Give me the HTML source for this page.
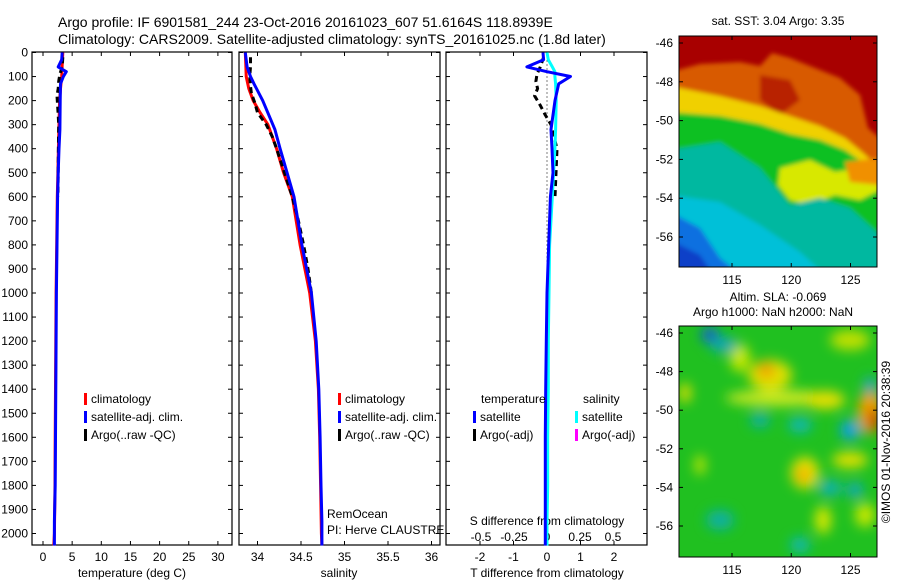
<!DOCTYPE html>
<html><head><meta charset="utf-8"><style>
html,body{margin:0;padding:0;background:#fff}
svg{display:block;font-family:"Liberation Sans",sans-serif}
</style></head><body>
<svg id="fig" width="900" height="580" viewBox="0 0 900 580">
<defs>
<filter id="bl1" x="-5%" y="-5%" width="110%" height="110%"><feGaussianBlur stdDeviation="2"/></filter>
<filter id="bl2" x="-20%" y="-20%" width="140%" height="140%"><feGaussianBlur stdDeviation="6"/></filter>
<clipPath id="c1"><rect x="679" y="36" width="198" height="231"/></clipPath>
<clipPath id="c2"><rect x="679" y="326" width="198" height="231"/></clipPath>
</defs>
<text x="58" y="27" font-size="14">Argo profile: IF 6901581_244 23-Oct-2016 20161023_607 51.6164S 118.8939E</text>
<text x="58" y="44" font-size="14">Climatology: CARS2009. Satellite-adjusted climatology: synTS_20161025.nc (1.8d later)</text>
<g id="plots"></g>

<!-- SST map -->
<g>
<text x="778" y="25" font-size="12" text-anchor="middle">sat. SST: 3.04  Argo: 3.35</text>
<g clip-path="url(#c1)">
<rect x="679" y="36" width="198" height="231" fill="#a80000"/>
<g filter="url(#bl1)">
<path d="M670,72 L700,64 L740,62 L760,66 L772,53 L790,58 L810,66 L840,78 L860,95 L868,128 L880,138 L880,280 L670,280Z" fill="#d85a00"/>
<path d="M760,75 L790,80 L800,100 L780,115 L760,100Z" fill="#b82000"/>
<path d="M670,86 L720,96 L760,106 L790,116 L820,126 L845,138 L862,152 L880,168 L880,280 L670,280Z" fill="#f0d000"/>
<path d="M670,112 L720,116 L760,124 L790,134 L820,140 L845,150 L862,162 L880,190 L880,280 L670,280Z" fill="#10c020"/>
<path d="M780,168 L810,160 L835,172 L860,168 L880,165 L880,190 L860,200 L835,195 L810,205 L790,200 L778,185Z" fill="#d8e800"/>
<path d="M845,162 L880,158 L880,185 L850,182Z" fill="#f09000"/>
<path d="M670,150 L720,142 L760,168 L790,205 L820,198 L850,208 L880,235 L880,280 L670,280Z" fill="#00b8a0"/>
<path d="M670,195 L720,202 L760,225 L800,252 L820,270 L670,280Z" fill="#00c0d8"/>
<path d="M670,212 L700,228 L720,258 L735,270 L670,280Z" fill="#1070e0"/>
<path d="M670,240 L700,255 L710,270 L670,280Z" fill="#1040c8"/>
</g>
</g>
<rect x="679" y="36" width="198" height="231" fill="none" stroke="#000"/>
<g id="m1ticks"></g>
</g>

<!-- SLA map -->
<g>
<text x="778" y="301" font-size="12" text-anchor="middle">Altim. SLA: -0.069</text>
<text x="773" y="316" font-size="12" text-anchor="middle">Argo h1000: NaN h2000: NaN</text>
<g clip-path="url(#c2)">
<rect x="679" y="326" width="198" height="231" fill="#20c020"/>
<g filter="url(#bl2)">
<ellipse cx="740" cy="358" rx="10" ry="14" fill="#c8e800"/>
<ellipse cx="770" cy="375" rx="22" ry="15" fill="#e0e000"/>
<ellipse cx="766" cy="370" rx="9" ry="8" fill="#f0a000"/>
<ellipse cx="780" cy="398" rx="55" ry="8" fill="#c8e820"/>
<ellipse cx="825" cy="400" rx="20" ry="9" fill="#e8e000"/>
<ellipse cx="710" cy="335" rx="9" ry="8" fill="#1060d0"/>
<ellipse cx="724" cy="345" rx="14" ry="8" fill="#10a8b0"/>
<ellipse cx="685" cy="393" rx="6" ry="10" fill="#e0e000"/>
<ellipse cx="850" cy="340" rx="20" ry="10" fill="#c0e000"/>
<ellipse cx="870" cy="412" rx="12" ry="22" fill="#f0a000"/>
<ellipse cx="874" cy="420" rx="6" ry="12" fill="#c84000"/>
<ellipse cx="850" cy="430" rx="10" ry="10" fill="#10a0e0"/>
<ellipse cx="870" cy="385" rx="6" ry="8" fill="#20a0d0"/>
<ellipse cx="805" cy="473" rx="14" ry="16" fill="#e8e000"/>
<ellipse cx="803" cy="475" rx="6" ry="7" fill="#f0a000"/>
<ellipse cx="850" cy="460" rx="18" ry="8" fill="#e0e000"/>
<ellipse cx="823" cy="520" rx="8" ry="14" fill="#d8e800"/>
<ellipse cx="700" cy="465" rx="5" ry="10" fill="#c8e800"/>
<ellipse cx="865" cy="515" rx="10" ry="12" fill="#c8e800"/>
<ellipse cx="760" cy="420" rx="10" ry="8" fill="#10b0a0"/>
<ellipse cx="800" cy="425" rx="12" ry="8" fill="#10b8b0"/>
<ellipse cx="830" cy="488" rx="12" ry="8" fill="#10b0b0"/>
<ellipse cx="800" cy="545" rx="10" ry="8" fill="#10b8b0"/>
<ellipse cx="720" cy="520" rx="14" ry="10" fill="#10b0a0"/>
<ellipse cx="855" cy="490" rx="8" ry="8" fill="#10a8c0"/>
</g>
</g>
<rect x="679" y="326" width="198" height="231" fill="none" stroke="#000"/>
<g id="m2ticks"></g>
</g>
<text transform="translate(890,442) rotate(-90)" font-size="12" text-anchor="middle">©IMOS 01-Nov-2016 20:38:39</text>
</svg>
<script>
// ---- data ----
const depthClim = [0,50,100,150,200,250,300,400,500,600,800,1000,1200,1400,1600,1800,2000,2050];
const tClim = [3.4,3.3,3.2,3.0,2.85,2.8,2.75,2.65,2.55,2.45,2.35,2.25,2.2,2.15,2.1,2.05,1.95,1.85];
const depthSat = [0,30,60,80,100,130,200,320,400,500,600,800,1000,1200,1400,1600,1800,1950,2050];
const tSat = [3.3,3.2,2.6,4.0,3.5,3.0,2.95,2.9,2.75,2.6,2.5,2.4,2.3,2.25,2.2,2.15,2.1,1.95,1.95];
const depthArgoT = [20,60,90,120,150,180,220,260,300,400,500,600];
const tArgo = [3.4,3.3,2.9,2.7,2.6,2.4,2.5,2.6,2.7,2.65,2.6,2.55];
const sClim = [33.86,33.865,33.87,33.9,33.95,34.03,34.12,34.22,34.3,34.4,34.49,34.6,34.665,34.7,34.715,34.725,34.735,34.74];
const sSat = [33.86,33.87,33.88,33.9,33.92,33.96,34.06,34.2,34.26,34.34,34.42,34.51,34.62,34.675,34.705,34.72,34.73,34.74,34.74];
const depthArgoS = [20,60,100,140,170,210,250,300,350,400,500,600,700,800,900,1000];
const sArgo = [33.92,33.92,33.91,33.92,33.93,33.97,34.0,34.1,34.17,34.22,34.31,34.4,34.47,34.53,34.58,34.62];
const dTSat = [-0.12,-0.1,-0.6,0.0,0.7,0.35,0.24,0.12,0.15,0.18,0.1,0.05,0.0,-0.02,-0.04,-0.05,-0.05,-0.05,-0.05];
const dSSat = [0.0,0.01,0.04,0.06,0.06,0.065,0.07,0.065,0.06,0.05,0.04,0.02,0.015,0.01,0.01,0.005,0.005,0.0,0.0];
const dTArgo = [-0.1,-0.2,-0.3,-0.33,-0.28,-0.37,-0.2,-0.05,0.12,0.3,0.27,0.24];
const depthTicks = [0,100,200,300,400,500,600,700,800,900,1000,1100,1200,1300,1400,1500,1600,1700,1800,1900,2000];
const tTicks = [0,5,10,15,20,25,30];
const sTicks = [34,34.5,35,35.5,36];
const sTickLabels = ["34","34.5","35","35.5","36"];
const dTTicks = [-2,-1,0,1,2];
const dSTicks = [-0.5,-0.25,0,0.25,0.5];
const dSTickLabels = ["-0.5","-0.25","0","0.25","0.5"];
const latTicks = [-46,-48,-50,-52,-54,-56];
const lonTicks = [115,120,125];

// ---- scales ----
const yD = d => 52.5 + d*0.2405;
const xT = t => 43 + t*5.83;
const xS = s => 257.5 + (s-34)*87;
const xDT = v => 547 + v*33.5;
const xDS = v => 547 + v*132;
const lonX = l => 732 + (l-115)*11.85;
const lat1 = l => 43 + (-46-l)*19.4;
const lat2 = l => 333 + (-46-l)*19.3;

const NS = "http://www.w3.org/2000/svg";
const fig = document.getElementById('plots');
function mk(tag, attrs, parent){ const e=document.createElementNS(NS,tag); for(const k in attrs) e.setAttribute(k,attrs[k]); (parent||fig).appendChild(e); return e; }
function txt(x,y,s,anchor,size,parent){ const e=mk('text',{x:x,y:y,'font-size':size||12,'text-anchor':anchor||'start'},parent); e.textContent=s; return e; }

function stepPath(xs, ds, xf){
  let d='';
  for(let i=0;i<xs.length;i++){
    const x=xf(xs[i]).toFixed(1), y=yD(ds[i]).toFixed(1);
    d += (i?'L':'M')+x+','+y;
  }
  return d;
}

const panels = [
  {name:'temperature',x0:32,x1:232},
  {name:'salinity',x0:239,x1:440},
  {name:'difference',x0:446,x1:647}
];
panels.forEach(p=>{
  const r = mk('rect',{x:p.x0,y:52,width:p.x1-p.x0,height:493,fill:'none',stroke:'#000','stroke-width':1.2});
  
  
  depthTicks.forEach(d=>{
    mk('line',{x1:p.x0,x2:p.x0+4,y1:yD(d),y2:yD(d),stroke:'#000'});
    mk('line',{x1:p.x1,x2:p.x1-4,y1:yD(d),y2:yD(d),stroke:'#000'});
  });
});
depthTicks.forEach(d=>{
  const t = txt(28,yD(d)+4,String(d),'end');
  
  
});
function xticks(vals, labels, f, y){
  vals.forEach((v,i)=>{
    const x=f(v);
    mk('line',{x1:x,x2:x,y1:52,y2:56,stroke:'#000'});
    mk('line',{x1:x,x2:x,y1:545,y2:541,stroke:'#000'});
    const t = txt(x,y,labels[i],'middle');
    
    
  });
}
xticks(tTicks, tTicks.map(String), xT, 561);
xticks(sTicks, sTickLabels, xS, 561);
xticks(dTTicks, dTTicks.map(String), xDT, 561);
dSTicks.forEach((v,i)=>{
  const t = txt(xDS(v),541,dSTickLabels[i],'middle');
  
  
});
[['temperature (deg C)',132],['salinity',339],['T difference from climatology',547]].forEach(a=>{
  const t = txt(a[1],577,a[0],'middle');
  
  
});
const sdt = txt(547,525,'S difference from climatology','middle');



// zero line in diff panel
const zl = mk('line',{x1:xDT(0),x2:xDT(0),y1:yD(0),y2:yD(2050),stroke:'#000','stroke-dasharray':'1 3'});



function series(xs, ds, xf, color, name, dashed){
  const a = {d:stepPath(xs,ds,xf),fill:'none',stroke:color,'stroke-width':3,'stroke-linejoin':'round'};
  if(dashed) a['stroke-dasharray']='6 4';
  const e = mk('path',a);
  
  
}
series(tClim, depthClim, xT, '#ff0000', 'temperature-climatology-line');
series(tArgo, depthArgoT, xT, '#000', 'temperature-argo-line', true);
series(tSat, depthSat, xT, '#0000ff', 'temperature-satellite-line');
series(sClim, depthClim, xS, '#ff0000', 'salinity-climatology-line');
series(sArgo, depthArgoS, xS, '#000', 'salinity-argo-line', true);
series(sSat, depthSat, xS, '#0000ff', 'salinity-satellite-line');
series(dTArgo, depthArgoT, xDT, '#000', 'tdiff-argo-line', true);
series(dSSat, depthSat, xDS, '#00ffff', 'sdiff-satellite-line');
series(dTSat, depthSat, xDT, '#0000ff', 'tdiff-satellite-line');

function legendEntry(x,y,color,label){
  const b = mk('rect',{x:x,y:y-10,width:3,height:12,fill:color});
  
  
  const t = txt(x+7,y,label);
  
  
}
[[84,'#ff0000','climatology',403],[84,'#0000ff','satellite-adj. clim.',421],[84,'#000','Argo(..raw -QC)',439],
 [338,'#ff0000','climatology',403],[338,'#0000ff','satellite-adj. clim.',421],[338,'#000','Argo(..raw -QC)',439],
 [473,'#0000ff','satellite',421],[473,'#000','Argo(-adj)',439],
 [575,'#00ffff','satellite',421],[575,'#ff00ff','Argo(-adj)',439]].forEach(a=>legendEntry(a[0],a[3],a[1],a[2]));
[['temperature',481],['salinity',583]].forEach(a=>{
  const t = txt(a[1],403,a[0]);
  
  
});
const r1 = txt(327,518,'RemOcean');


const r2 = txt(327,534,'PI: Herve CLAUSTRE');



// map ticks
function mapTicks(gid, latf, top, bot){
  const g = document.getElementById(gid);
  latTicks.forEach(l=>{
    const y=latf(l);
    mk('line',{x1:679,x2:683,y1:y,y2:y,stroke:'#000'},g);
    mk('line',{x1:877,x2:873,y1:y,y2:y,stroke:'#000'},g);
    const t = txt(673,y+4,String(l),'end',12,g);
    
    
  });
  lonTicks.forEach(l=>{
    const x=lonX(l);
    mk('line',{x1:x,x2:x,y1:top,y2:top+4,stroke:'#000'},g);
    mk('line',{x1:x,x2:x,y1:bot,y2:bot-4,stroke:'#000'},g);
    const t = txt(x,bot+17,String(l),'middle',12,g);
    
    
  });
}
mapTicks('m1ticks', lat1, 36, 267);
mapTicks('m2ticks', lat2, 326, 557);
</script>
</body></html>
